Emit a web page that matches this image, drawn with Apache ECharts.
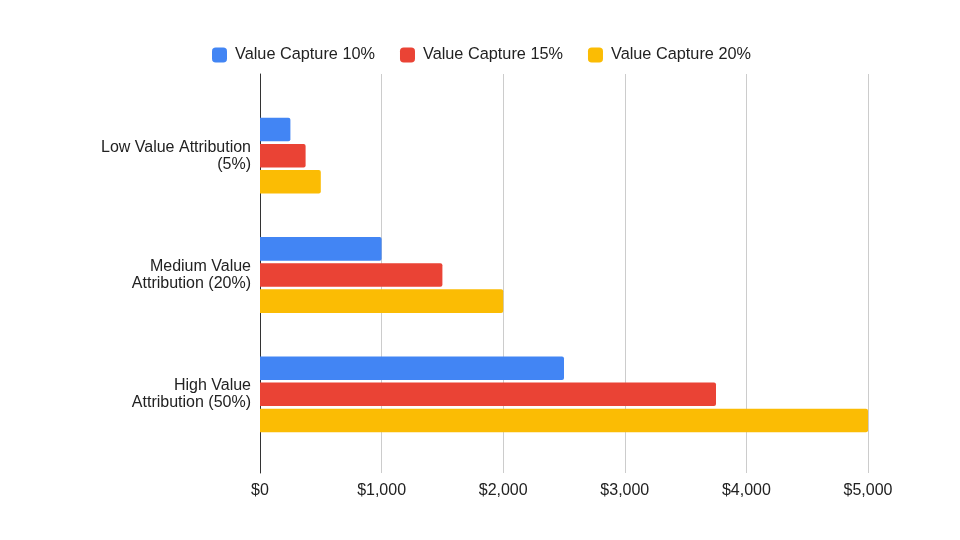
<!DOCTYPE html>
<html>
<head>
<meta charset="utf-8">
<script src="https://cdn.jsdelivr.net/npm/echarts@6/dist/echarts.min.js"></script>
<style>html,body{margin:0;padding:0;background:#fff}#c{width:960px;height:540px}</style>
</head>
<body>
<div id="c"></div>
<script>
var categories = ['Low Value Attribution\n(5%)', 'Medium Value\nAttribution (20%)', 'High Value\nAttribution (50%)'];
var seriesNames = ['Value Capture 10%', 'Value Capture 15%', 'Value Capture 20%'];
var capture10 = [250, 1000, 2500];
var capture15 = [375, 1500, 3750];
var capture20 = [500, 2000, 5000];
var xTicks = [0, 1000, 2000, 3000, 4000, 5000];
var colors = ['#4285F4', '#EA4335', '#FBBC04'];

var font = 'Liberation Sans, Arial, Helvetica, sans-serif';
var chart = echarts.init(document.getElementById('c'), null, {renderer: 'canvas'});
var values = [capture10, capture15, capture20];
chart.setOption({
  animation: false,
  color: colors,
  textStyle: {fontFamily: font},
  legend: {
    left: 207, top: 42,
    itemWidth: 15, itemHeight: 15, itemGap: 25,
    icon: 'roundRect',
    textStyle: {fontSize: 16.3, color: '#222', fontFamily: font, padding: [0, 0, 0, 3]},
    data: seriesNames
  },
  grid: [
    {left: 260, right: 92, top: 96, bottom: 86},
    {left: 260, right: 92, top: 74, bottom: 67}
  ],
  xAxis: [
    {gridIndex: 0, type: 'value', min: xTicks[0], max: xTicks[xTicks.length - 1], show: false},
    {gridIndex: 1, type: 'value', min: xTicks[0], max: xTicks[xTicks.length - 1], interval: 1000,
      axisLine: {show: false}, axisTick: {show: false},
      splitLine: {show: true, lineStyle: {color: '#cccccc', width: 1}},
      axisLabel: {fontSize: 16, color: '#222', margin: 10, fontFamily: font,
        formatter: function (v) { return '$' + v.toLocaleString('en-US'); }}
    }
  ],
  yAxis: [
    {gridIndex: 0, type: 'category', inverse: true, data: categories,
      axisLine: {show: false}, axisTick: {show: false},
      axisLabel: {fontSize: 16, color: '#222', margin: 9, lineHeight: 17, align: 'right', fontFamily: font}
    },
    {gridIndex: 1, type: 'value', min: 0, max: 1,
      axisLine: {show: true, lineStyle: {color: '#333', width: 1}},
      axisTick: {show: false}, axisLabel: {show: false}, splitLine: {show: false}
    }
  ],
  series: seriesNames.map(function (n, i) {
    return {
      name: n, type: 'bar', xAxisIndex: 0, yAxisIndex: 0,
      data: values[i],
      barCategoryGap: '36.5%', barGap: '11%',
      itemStyle: {color: colors[i], borderRadius: [0, 2, 2, 0]}
    };
  })
});
</script>
</body>
</html>
